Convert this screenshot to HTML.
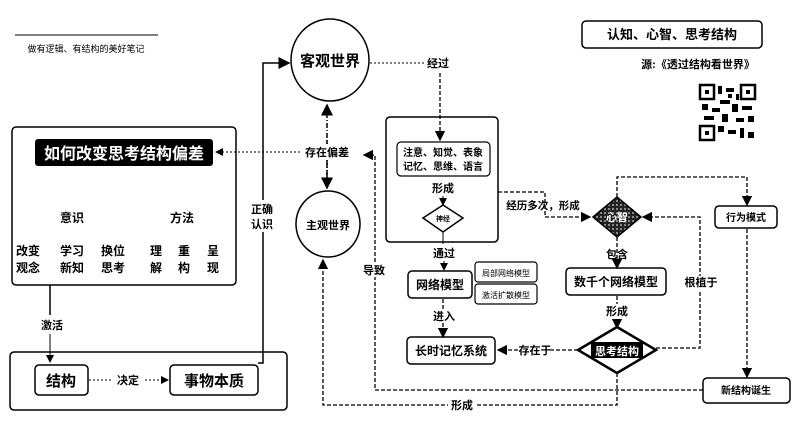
<!DOCTYPE html>
<html><head><meta charset="utf-8"><style>
html,body{margin:0;padding:0;background:#fff;}
svg{display:block;font-family:"Liberation Sans","Noto Sans CJK SC",sans-serif;font-weight:bold;}
</style></head><body>
<svg width="800" height="422" viewBox="0 0 800 422" xmlns="http://www.w3.org/2000/svg">
<defs>
<marker id="a" markerWidth="8" markerHeight="8" refX="7" refY="4" orient="auto"><path d="M0,0 L8,4 L0,8 z" fill="#000"/></marker>
<pattern id="chk" width="4" height="4" patternUnits="userSpaceOnUse"><rect width="4" height="4" fill="#222"/><rect width="2" height="2" fill="#888"/></pattern>
</defs>
<g fill="#000" text-anchor="middle">
<!-- top left -->
<line x1="15" y1="35" x2="158" y2="35" stroke="#000" stroke-width="1"/>
<text x="86" y="52" font-size="9" font-weight="normal">做有逻辑、有结构的美好笔记</text>

<!-- circles -->
<ellipse cx="330" cy="60" rx="39" ry="41" fill="none" stroke="#000" stroke-width="1.5"/>
<text x="330" y="66" font-size="15">客观世界</text>
<ellipse cx="328" cy="224" rx="32" ry="33" fill="none" stroke="#000" stroke-width="1.5"/>
<text x="328" y="229" font-size="11">主观世界</text>
<line x1="327" y1="188" x2="327" y2="105" stroke="#000" stroke-width="1.5" stroke-dasharray="5,2,1,2" marker-end="url(#a)"/>
<line x1="327" y1="140" x2="327" y2="188" stroke="#000" stroke-width="1.5" stroke-dasharray="5,2,1,2" marker-end="url(#a)"/>
<rect x="303" y="144" width="50" height="16" fill="#fff"/>
<text x="327" y="156" font-size="11">存在偏差</text>
<line x1="300" y1="152" x2="216" y2="152" stroke="#000" stroke-width="1" stroke-dasharray="2,2" marker-end="url(#a)"/>

<!-- left big box -->
<rect x="12" y="127" width="224" height="158" rx="4" fill="none" stroke="#000" stroke-width="1.5"/>
<rect x="35" y="139" width="178" height="27" rx="3" fill="#000"/>
<text x="124" y="159" font-size="16" fill="#fff">如何改变思考结构偏差</text>
<text x="72" y="222" font-size="12">意识</text>
<text x="182" y="222" font-size="12">方法</text>
<g font-size="12">
<text x="28" y="255">改变</text><text x="28" y="272">观念</text>
<text x="72" y="255">学习</text><text x="72" y="272">新知</text>
<text x="113" y="255">换位</text><text x="113" y="272">思考</text>
<text x="156" y="255">理</text><text x="156" y="272">解</text>
<text x="184" y="255">重</text><text x="184" y="272">构</text>
<text x="213" y="255">呈</text><text x="213" y="272">现</text>
</g>
<line x1="50" y1="285" x2="50" y2="315" stroke="#000" stroke-width="1.5"/>
<text x="52" y="329" font-size="11">激活</text>
<line x1="50" y1="334" x2="50" y2="362" stroke="#000" stroke-width="1" marker-end="url(#a)"/>

<!-- bottom box -->
<rect x="10" y="352" width="277" height="58" rx="4" fill="none" stroke="#000" stroke-width="1.5"/>
<rect x="35" y="365" width="53" height="30" rx="4" fill="none" stroke="#000" stroke-width="1.5"/>
<text x="61" y="386" font-size="15">结构</text>
<rect x="170" y="365" width="88" height="30" rx="4" fill="none" stroke="#000" stroke-width="1.5"/>
<text x="214" y="386" font-size="15">事物本质</text>
<line x1="89" y1="380" x2="168" y2="380" stroke="#000" stroke-width="1" stroke-dasharray="2,2" marker-end="url(#a)"/>
<rect x="113" y="372" width="30" height="15" fill="#fff"/>
<text x="128" y="384" font-size="11">决定</text>
<polyline points="258,363 263,363 263,63 289,63" fill="none" stroke="#000" stroke-width="1.5" marker-end="url(#a)"/>
<rect x="250" y="200" width="26" height="32" fill="#fff"/>
<text x="262" y="213" font-size="11">正确</text>
<text x="262" y="228" font-size="11">认识</text>

<!-- 经过 -->
<line x1="370" y1="63" x2="425" y2="63" stroke="#000" stroke-width="1" stroke-dasharray="2,2"/>
<text x="438" y="67" font-size="11">经过</text>
<line x1="440" y1="73" x2="440" y2="140" stroke="#000" stroke-width="1.3" stroke-dasharray="4,2" marker-end="url(#a)"/>

<!-- middle box -->
<rect x="386" y="117" width="112" height="125" rx="4" fill="none" stroke="#000" stroke-width="1.5"/>
<rect x="397" y="142" width="93" height="34" rx="4" fill="none" stroke="#000" stroke-width="1.2"/>
<text x="443" y="156" font-size="10">注意、知觉、表象</text>
<text x="443" y="170" font-size="10">记忆、思维、语言</text>
<text x="443" y="192" font-size="11">形成</text>
<line x1="443" y1="196" x2="443" y2="205" stroke="#000" stroke-width="1" marker-end="url(#a)"/>
<polygon points="423,218 443,205 463,218 443,232" fill="#fff" stroke="#000" stroke-width="1.5"/>
<text x="443" y="221" font-size="7">神经</text>
<line x1="443" y1="232" x2="443" y2="244" stroke="#000" stroke-width="1"/>
<text x="444" y="257" font-size="11">通过</text>
<line x1="444" y1="261" x2="444" y2="270" stroke="#000" stroke-width="1" marker-end="url(#a)"/>
<rect x="408" y="271" width="64" height="27" rx="4" fill="none" stroke="#000" stroke-width="1.5"/>
<text x="440" y="289" font-size="12">网络模型</text>
<rect x="475" y="262" width="62" height="20" rx="3" fill="none" stroke="#000" stroke-width="1.2"/>
<text x="506" y="276" font-size="8" font-weight="normal">局部网络模型</text>
<rect x="475" y="284" width="62" height="20" rx="3" fill="none" stroke="#000" stroke-width="1.2"/>
<text x="506" y="298" font-size="8" font-weight="normal">激活扩散模型</text>
<line x1="443" y1="299" x2="443" y2="337" stroke="#000" stroke-width="1.3" stroke-dasharray="4,2" marker-end="url(#a)"/>
<rect x="432" y="309" width="26" height="14" fill="#fff"/>
<text x="444" y="320" font-size="11">进入</text>
<rect x="407" y="337" width="88" height="27" rx="4" fill="none" stroke="#000" stroke-width="1.5"/>
<text x="451" y="355" font-size="12">长时记忆系统</text>

<!-- 心智 -->
<polyline points="498,192 545,192 545,217 590,217" fill="none" stroke="#000" stroke-width="1.3" stroke-dasharray="4,2" marker-end="url(#a)"/>
<text x="543" y="209" font-size="10.5">经历多次，形成</text>
<polygon points="593,217 617,197 641,217 617,237" fill="url(#chk)" stroke="#000" stroke-width="1.5"/>
<text x="617" y="221" font-size="11" fill="#fff">心智</text>
<text x="617" y="258" font-size="11">包含</text>
<line x1="617" y1="237" x2="617" y2="268" stroke="#000" stroke-width="1.3" stroke-dasharray="4,2" marker-end="url(#a)"/>
<rect x="566" y="268" width="100" height="27" rx="4" fill="none" stroke="#000" stroke-width="1.5"/>
<text x="616" y="286" font-size="12">数千个网络模型</text>
<line x1="617" y1="296" x2="617" y2="328" stroke="#000" stroke-width="1.3" stroke-dasharray="4,2" marker-end="url(#a)"/>
<rect x="604" y="304" width="27" height="14" fill="#fff"/>
<text x="617" y="315" font-size="11">形成</text>
<polygon points="578,350 617,327 656,350 617,373" fill="#fff" stroke="#000" stroke-width="2.5"/>
<rect x="591" y="342" width="52" height="16" fill="#000"/>
<text x="617" y="355" font-size="11" fill="#fff">思考结构</text>
<line x1="578" y1="350" x2="498" y2="350" stroke="#000" stroke-width="1.3" stroke-dasharray="4,2" marker-end="url(#a)"/>
<rect x="519" y="343" width="32" height="14" fill="#fff"/>
<text x="535" y="354" font-size="11">存在于</text>
<polyline points="656,348 700,348 700,217 643,217" fill="none" stroke="#000" stroke-width="1.3" stroke-dasharray="4,2" marker-end="url(#a)"/>
<rect x="686" y="276" width="30" height="14" fill="#fff"/>
<text x="701" y="286" font-size="11">根植于</text>
<polyline points="617,197 617,177 747,177 747,205" fill="none" stroke="#000" stroke-width="1.3" stroke-dasharray="4,2" marker-end="url(#a)"/>
<rect x="715" y="206" width="62" height="22" rx="4" fill="none" stroke="#000" stroke-width="1.5"/>
<text x="746" y="221" font-size="10">行为模式</text>
<line x1="747" y1="229" x2="747" y2="377" stroke="#000" stroke-width="1.3" stroke-dasharray="4,2" marker-end="url(#a)"/>
<rect x="703" y="378" width="87" height="25" rx="4" fill="none" stroke="#000" stroke-width="1.5"/>
<text x="746" y="394" font-size="10">新结构诞生</text>
<polyline points="703,390 375,390 375,155 364,155" fill="none" stroke="#000" stroke-width="1.3" stroke-dasharray="4,2" marker-end="url(#a)"/>
<rect x="362" y="263" width="26" height="14" fill="#fff"/>
<text x="374" y="274" font-size="11">导致</text>
<polyline points="617,373 617,405 323,405 323,260" fill="none" stroke="#000" stroke-width="1.3" stroke-dasharray="4,2" marker-end="url(#a)"/>
<rect x="448" y="398" width="28" height="14" fill="#fff"/>
<text x="462" y="409" font-size="11">形成</text>

<!-- top right -->
<rect x="582" y="21" width="180" height="27" rx="4" fill="none" stroke="#000" stroke-width="1.5"/>
<text x="672" y="39" font-size="13">认知、心智、思考结构</text>
<text x="698" y="68" font-size="11">源:《透过结构看世界》</text>
<g>
<rect x="700" y="85" width="55" height="55" fill="#fff"/>
<rect x="700" y="85" width="14" height="14" fill="none" stroke="#000" stroke-width="2.5"/>
<rect x="741" y="85" width="14" height="14" fill="none" stroke="#000" stroke-width="2.5"/>
<rect x="700" y="126" width="14" height="14" fill="none" stroke="#000" stroke-width="2.5"/>
<rect x="705" y="90" width="4" height="4"/><rect x="746" y="90" width="4" height="4"/><rect x="705" y="131" width="4" height="4"/>
<rect x="718" y="86" width="4" height="8"/><rect x="726" y="88" width="8" height="4"/><rect x="720" y="100" width="10" height="4"/>
<rect x="702" y="104" width="6" height="6"/><rect x="712" y="108" width="8" height="4"/><rect x="732" y="104" width="6" height="8"/>
<rect x="742" y="106" width="10" height="4"/><rect x="704" y="116" width="10" height="4"/><rect x="722" y="114" width="6" height="8"/>
<rect x="736" y="118" width="8" height="4"/><rect x="748" y="116" width="6" height="6"/><rect x="718" y="126" width="6" height="6"/>
<rect x="728" y="130" width="8" height="4"/><rect x="740" y="128" width="4" height="10"/><rect x="748" y="132" width="6" height="6"/>
<rect x="728" y="94" width="4" height="4"/><rect x="736" y="94" width="3" height="6"/>
</g>
</g>
</svg>
</body></html>
